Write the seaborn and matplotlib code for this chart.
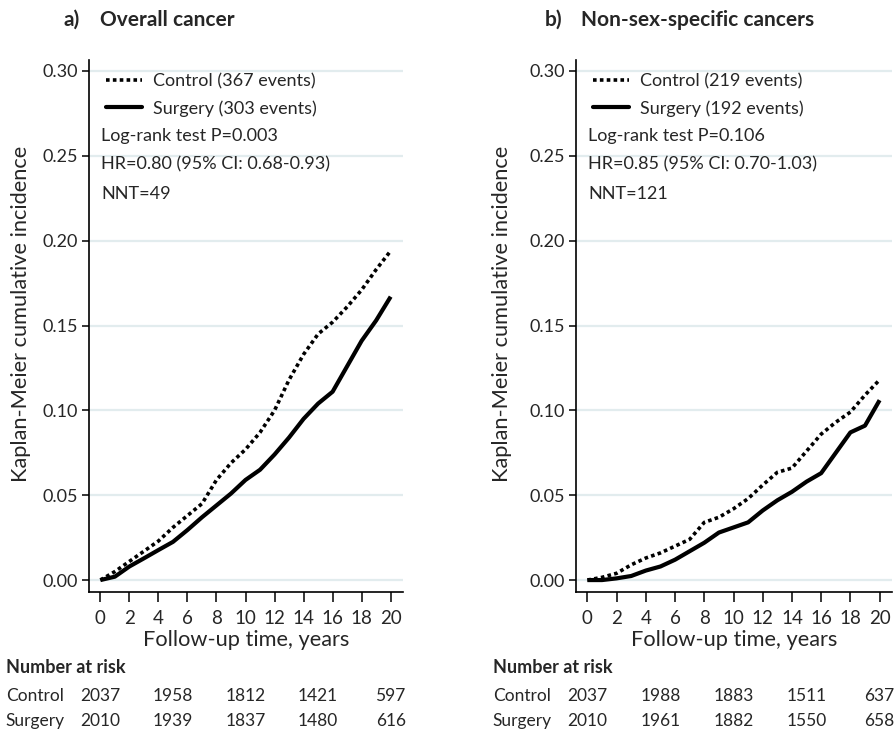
import numpy as np
import pandas as pd
import matplotlib
matplotlib.use("Agg")
import matplotlib.pyplot as plt
import seaborn as sns
from matplotlib.lines import Line2D
from matplotlib.transforms import blended_transform_factory

# Follow-up years at which cumulative incidence is tabulated
years = list(range(0, 21))

# a) Overall cancer
overall_control = [0.0, 0.005, 0.011, 0.017, 0.023, 0.031, 0.038, 0.045, 0.059, 0.069, 0.077,
                   0.087, 0.100, 0.118, 0.133, 0.145, 0.152, 0.161, 0.171, 0.183, 0.194]
overall_surgery = [0.0, 0.002, 0.008, 0.0128, 0.0177, 0.0225, 0.0295, 0.037, 0.044, 0.051, 0.059,
                   0.065, 0.074, 0.084, 0.095, 0.104, 0.111, 0.126, 0.141, 0.153, 0.167]

# b) Non-sex-specific cancers
nonsex_control = [0.0, 0.0016, 0.004, 0.009, 0.013, 0.016, 0.020, 0.024, 0.034, 0.037, 0.042,
                  0.048, 0.056, 0.0635, 0.066, 0.076, 0.086, 0.093, 0.099, 0.109, 0.118]
nonsex_surgery = [0.0, 0.0, 0.001, 0.0024, 0.0056, 0.008, 0.012, 0.017, 0.022, 0.028, 0.031,
                  0.034, 0.041, 0.047, 0.052, 0.058, 0.063, 0.075, 0.087, 0.091, 0.106]

panel_letters = ["a)", "b)"]
panel_titles = ["Overall cancer", "Non-sex-specific cancers"]
legend_labels = [["Control (367 events)", "Surgery (303 events)"],
                 ["Control (219 events)", "Surgery (192 events)"]]
stats_lines = [["Log-rank test P=0.003", "HR=0.80 (95% CI: 0.68-0.93)", "NNT=49"],
               ["Log-rank test P=0.106", "HR=0.85 (95% CI: 0.70-1.03)", "NNT=121"]]

# Number at risk table
risk_times = [0, 5, 10, 15, 20]
risk_control = [[2037, 1958, 1812, 1421, 597], [2037, 1988, 1883, 1511, 637]]
risk_surgery = [[2010, 1939, 1837, 1480, 616], [2010, 1961, 1882, 1550, 658]]

sns.set_style("ticks")
plt.rcParams["font.family"] = ["Lato", "DejaVu Sans"]

fig = plt.figure(figsize=(8.94, 7.31), dpi=100)
axes = [fig.add_axes([0.0996, 0.190, 0.3512, 0.728]),
        fig.add_axes([0.6443, 0.190, 0.3535, 0.728])]

# figure-x positions of panel letters and titles, axes-x of y labels
letter_x = [0.0705, 0.6096]
title_x = [0.112, 0.650]
ylabel_x = [-0.185, -0.202]

series = [(overall_control, overall_surgery), (nonsex_control, nonsex_surgery)]
grid_color = "#e2ecee"
dotted = (0, (1.0, 0.9))
fs = 13

for i, ax in enumerate(axes):
    ctrl, surg = series[i]
    df = pd.DataFrame({
        "year": years * 2,
        "incidence": ctrl + surg,
        "group": ["Control"] * len(years) + ["Surgery"] * len(years),
    })
    sns.lineplot(data=df[df.group == "Control"], x="year", y="incidence", ax=ax,
                 color="black", linewidth=2.6, linestyle=dotted, legend=False)
    sns.lineplot(data=df[df.group == "Surgery"], x="year", y="incidence", ax=ax,
                 color="black", linewidth=3.0, legend=False, solid_capstyle="butt")

    ax.set_xlim(-0.78, 20.85)
    ax.set_ylim(-0.0071, 0.3065)
    ax.set_xticks(range(0, 21, 2))
    ax.set_yticks([0.0, 0.05, 0.10, 0.15, 0.20, 0.25, 0.30])
    ax.set_yticklabels(["0.00", "0.05", "0.10", "0.15", "0.20", "0.25", "0.30"])
    for yv in [0.0, 0.05, 0.10, 0.15, 0.20, 0.25, 0.30]:
        ax.axhline(yv, color=grid_color, linewidth=1.6, zorder=0)
    for side in ["top", "right"]:
        ax.spines[side].set_visible(False)
    for side in ["left", "bottom"]:
        ax.spines[side].set_linewidth(1.2)
        ax.spines[side].set_color("black")
    ax.tick_params(axis="x", length=7, width=1.1, labelsize=13.5, pad=6, color="black")
    ax.tick_params(axis="y", length=5, width=1.1, labelsize=13, pad=3, color="black")
    ax.set_xlabel("Follow-up time, years", fontsize=15.7, labelpad=2)
    ax.set_ylabel("Kaplan-Meier cumulative incidence", fontsize=15.7)
    ax.yaxis.set_label_coords(ylabel_x[i], 0.5235)

    fig.text(letter_x[i], 0.9726, panel_letters[i], fontsize=15, fontweight="bold",
             va="center", ha="left")
    fig.text(title_x[i], 0.9726, panel_titles[i], fontsize=15, fontweight="bold",
             va="center", ha="left")

    handles = [Line2D([], [], color="black", linewidth=2.6, linestyle=dotted),
               Line2D([], [], color="black", linewidth=3.0)]
    ax.legend(handles, legend_labels[i], loc="upper left", bbox_to_anchor=(0.03, 0.988),
              frameon=False, fontsize=fs, handlelength=2.0, handletextpad=0.6,
              labelspacing=0.58, borderaxespad=0.0, borderpad=0.4)
    for k, line in enumerate(stats_lines[i]):
        ax.text(0.038, 0.858 - k * 0.0545, line, transform=ax.transAxes,
                fontsize=fs, va="center", ha="left")

    # Number-at-risk table below the axis
    trans = blended_transform_factory(ax.transData, fig.transFigure)
    left = ax.get_position().x0 - 0.093
    fig.text(left, 0.0862, "Number at risk", fontsize=13, fontweight="bold", va="center")
    fig.text(left, 0.0479, "Control", fontsize=12.5, va="center")
    fig.text(left, 0.0137, "Surgery", fontsize=12.5, va="center")
    for t, c, s in zip(risk_times, risk_control[i], risk_surgery[i]):
        ax.text(t, 0.0479, str(c), transform=trans, fontsize=12.5, va="center", ha="center")
        ax.text(t, 0.0137, str(s), transform=trans, fontsize=12.5, va="center", ha="center")

fig.savefig("out.png", dpi=100)
